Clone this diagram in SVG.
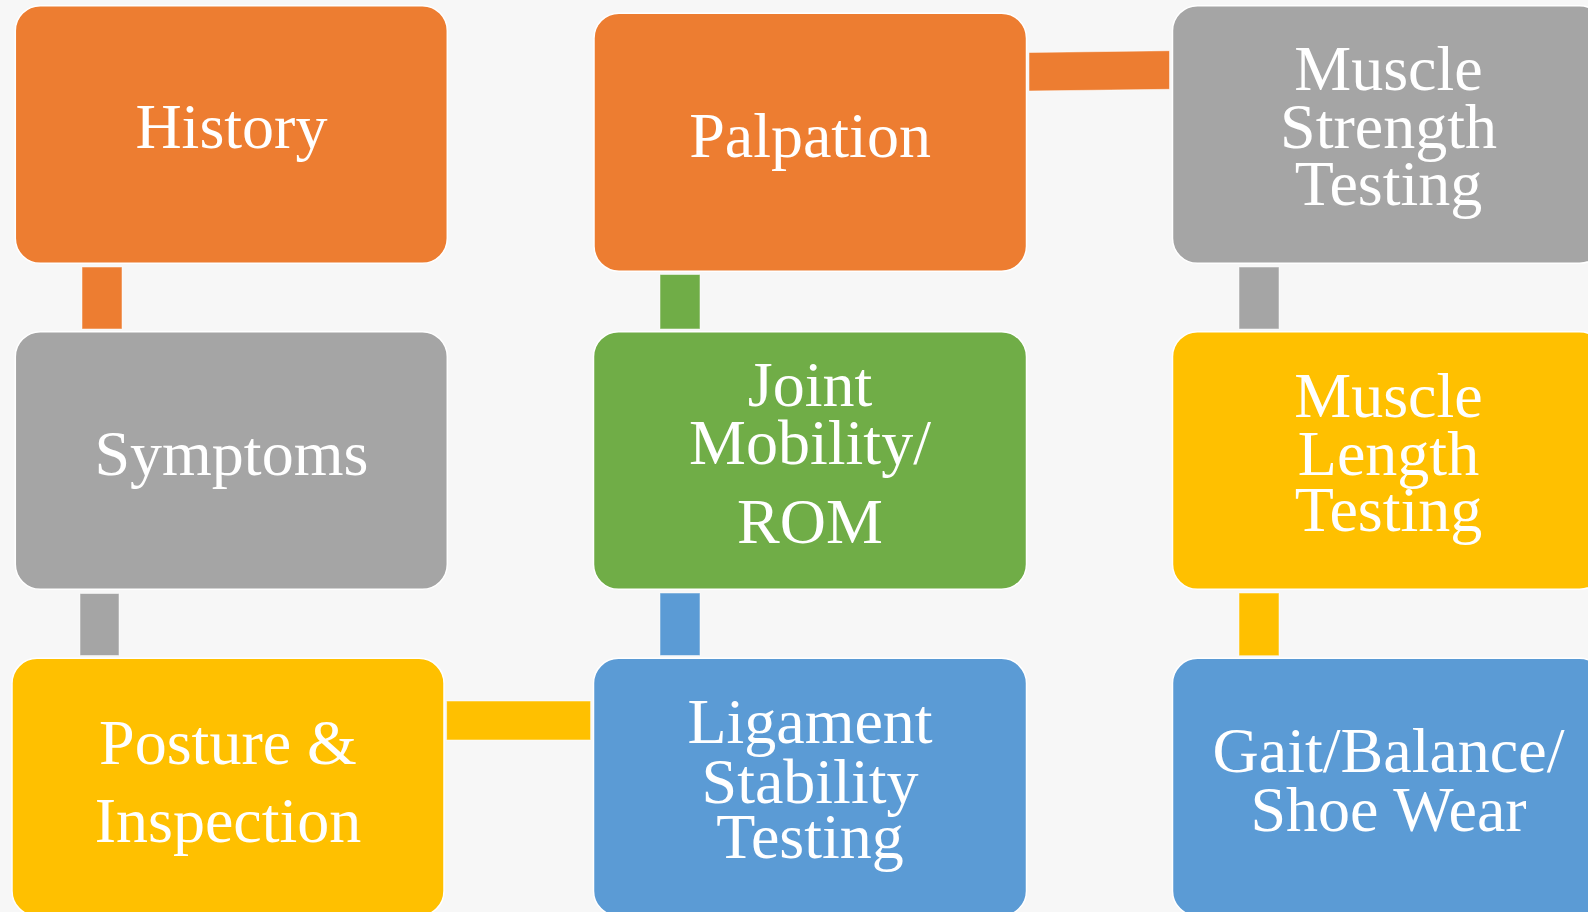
<svg xmlns="http://www.w3.org/2000/svg" width="1588" height="912" viewBox="0 0 1588 912">
  <style>
    .box { stroke: #ffffff; stroke-width: 1.5; }
    .conn { stroke: #ffffff; stroke-opacity: 0.5; stroke-width: 1; }
    .orange { fill: #ED7D31; }
    .gray { fill: #A5A5A5; }
    .green { fill: #70AD47; }
    .yellow { fill: #FFC000; }
    .blue { fill: #5B9BD5; }
    .lbl { font-family: "Liberation Serif", "Times New Roman", serif; font-size: 64px; fill: #ffffff; text-anchor: middle; }
  </style>
  <rect x="0" y="0" width="1588" height="912" fill="#F7F7F7"/>

  <g id="connectors">
    <rect class="conn orange" x="82" y="267" width="40" height="62"/>
    <rect class="conn gray" x="80" y="593.5" width="39" height="62"/>
    <rect class="conn yellow" x="446.6" y="701" width="144" height="39"/>
    <rect class="conn green" x="660" y="274.5" width="40" height="54.5"/>
    <rect class="conn blue" x="660" y="593" width="40" height="62.5"/>
    <polygon class="conn orange" points="1029,52.5 1169.5,50.7 1169.5,89.3 1029,91"/>
    <rect class="conn gray" x="1239" y="267" width="40" height="62"/>
    <rect class="conn yellow" x="1239" y="593" width="40" height="62.7"/>
  </g>

  <g id="history">
    <rect class="box orange" x="15.3" y="5.7" width="432" height="257.6" rx="25"/>
    <text class="lbl" x="231.4" y="148">History</text>
  </g>
  <g id="palpation">
    <rect class="box orange" x="594" y="13.2" width="432.5" height="258" rx="25"/>
    <text class="lbl" x="810" y="157">Palpation</text>
  </g>
  <g id="muscle-strength">
    <rect class="box gray" x="1172.5" y="5.7" width="432" height="257.6" rx="25"/>
    <text class="lbl" x="1388.5" y="90">Muscle</text>
    <text class="lbl" x="1388.5" y="148">Strength</text>
    <text class="lbl" x="1388.5" y="205">Testing</text>
  </g>
  <g id="symptoms">
    <rect class="box gray" x="15.3" y="331.7" width="432" height="257.6" rx="25"/>
    <text class="lbl" x="231.4" y="475">Symptoms</text>
  </g>
  <g id="joint-mobility">
    <rect class="box green" x="593.5" y="331.7" width="433" height="257.6" rx="25"/>
    <text class="lbl" x="810" y="406">Joint</text>
    <text class="lbl" x="810" y="464">Mobility/</text>
    <text class="lbl" x="810" y="543">ROM</text>
  </g>
  <g id="muscle-length">
    <rect class="box yellow" x="1172.5" y="331.7" width="432" height="257.6" rx="25"/>
    <text class="lbl" x="1388.5" y="417">Muscle</text>
    <text class="lbl" x="1388.5" y="475">Length</text>
    <text class="lbl" x="1388.5" y="531">Testing</text>
  </g>
  <g id="posture">
    <rect class="box yellow" x="12" y="658.3" width="432" height="257.6" rx="25"/>
    <text class="lbl" x="228" y="764">Posture &amp;</text>
    <text class="lbl" x="228" y="842">Inspection</text>
  </g>
  <g id="ligament">
    <rect class="box blue" x="593.5" y="658.3" width="433" height="257.6" rx="25"/>
    <text class="lbl" x="810" y="743">Ligament</text>
    <text class="lbl" x="810" y="803">Stability</text>
    <text class="lbl" x="810" y="858">Testing</text>
  </g>
  <g id="gait">
    <rect class="box blue" x="1172.5" y="658.3" width="432" height="257.6" rx="25"/>
    <text class="lbl" x="1388.5" y="772">Gait/Balance/</text>
    <text class="lbl" x="1388.5" y="831">Shoe Wear</text>
  </g>
</svg>
